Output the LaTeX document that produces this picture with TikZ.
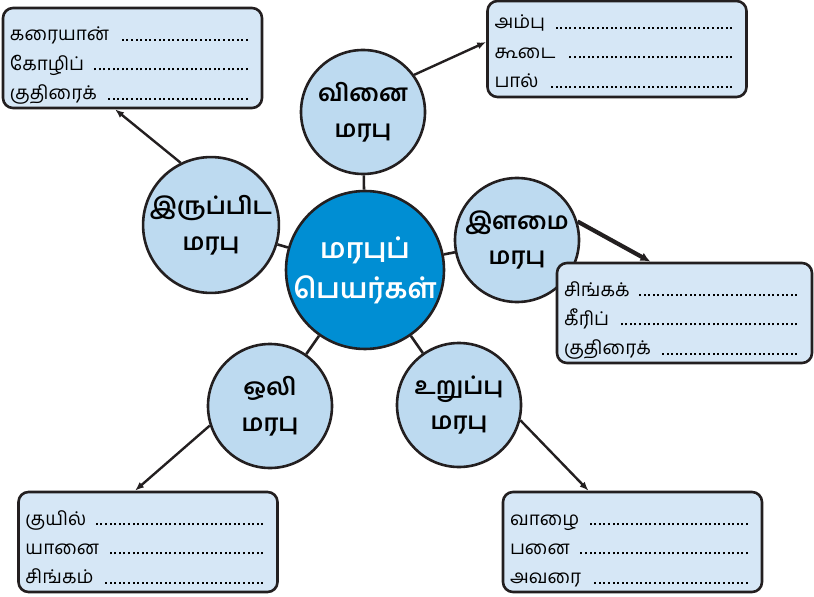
\documentclass[tikz,border=0pt]{standalone}
\usepackage{fontspec}
\newfontfamily\tamil[Script=Tamil]{Hind Madurai}
\usetikzlibrary{arrows.meta}
\definecolor{cdark}{RGB}{35,31,32}
\definecolor{cmain}{RGB}{0,142,211}
\definecolor{ccirc}{RGB}{189,218,240}
\definecolor{cbox}{RGB}{214,231,246}
\newcommand{\dotrow}[1]{\makebox[\dimexpr\linewidth-4bp\relax][l]{#1\hspace{8bp}\leaders\hbox to 4.6bp{\hss\rule{2bp}{2bp}\hss}\hfill}}
\begin{document}
\begin{tikzpicture}[x=1bp,y=-1bp,
  boxnode/.style={draw=cdark, line width=2.6bp, rounded corners=10bp, fill=cbox,
    text width=245bp, inner xsep=7bp, inner ysep=0bp, align=left,
    font=\tamil\fontsize{19}{29.5}\selectfont},
  circnode/.style={circle, draw=cdark, line width=2.6bp, fill=ccirc, minimum size=124bp,
    inner sep=0pt, align=center, font=\tamil\bfseries\fontsize{24}{36}\selectfont},
  mainnode/.style={circle, draw=cdark, line width=2.6bp, fill=cmain, minimum size=154bp,
    inner sep=0pt, align=center, text=white, font=\tamil\bfseries\fontsize{28}{40}\selectfont},
  link/.style={draw=cdark, line width=2.6bp},
  arr/.style={draw=cdark, line width=2.4bp, -{Latex[length=9bp,width=7bp]}},
  thickarr/.style={draw=cdark, line width=4.2bp, -{Latex[length=10bp,width=9bp]}}]
\useasboundingbox (0,0) rectangle (814,597);

% centre and topic circles
\node[mainnode] (main) at (365,270) {மரபுப்\\பெயர்கள்};
\node[circnode] (vinai) at (363,112) {வினை\\மரபு};
\node[circnode] (ilamai) at (517,240) {இளமை\\மரபு};
\node[circnode] (irup) at (211,225) {இருப்பிட\\மரபு};
\node[circnode] (oli) at (270,406) {ஒலி\\மரபு};
\node[circnode] (urup) at (459,405) {உறுப்பு\\மரபு};

% answer boxes
\node[boxnode, text height=33bp, text depth=67bp] (tl) at (132.5,58) {\dotrow{கரையான்}\\\dotrow{கோழிப்}\\\dotrow{குதிரைக்}};
\node[boxnode, text height=28bp, text depth=68bp] (tr) at (617,49) {\dotrow{அம்பு}\\\dotrow{கூடை}\\\dotrow{பால்}};
\node[boxnode, text height=33bp, text depth=67bp, text width=241bp] (rt) at (684.5,313) {\dotrow{சிங்கக்}\\\dotrow{கீரிப்}\\\dotrow{குதிரைக்}};
\node[boxnode, text height=33bp, text depth=67bp] (bl) at (148,542) {\dotrow{குயில்}\\\dotrow{யானை}\\\dotrow{சிங்கம்}};
\node[boxnode, text height=33bp, text depth=67bp] (br) at (632.5,542) {\dotrow{வாழை}\\\dotrow{பனை}\\\dotrow{அவரை}};

% links centre -> circles
\draw[link] (main) -- (vinai);
\draw[link] (main) -- (ilamai);
\draw[link] (main) -- (irup);
\draw[link] (main) -- (oli);
\draw[link] (main) -- (urup);

% arrows circles -> boxes
\draw[arr] (irup.116) -- ([xshift=-17.5bp]tl.south);
\draw[arr] (vinai.36) -- ([yshift=7bp]tr.west);
\draw[thickarr] (ilamai.17) -- ([xshift=-34bp]rt.north);
\draw[arr] (oli.198) -- ([xshift=-13bp]bl.north);
\draw[arr] (urup.-14) -- ([xshift=-44bp]br.north);
\end{tikzpicture}
\end{document}
